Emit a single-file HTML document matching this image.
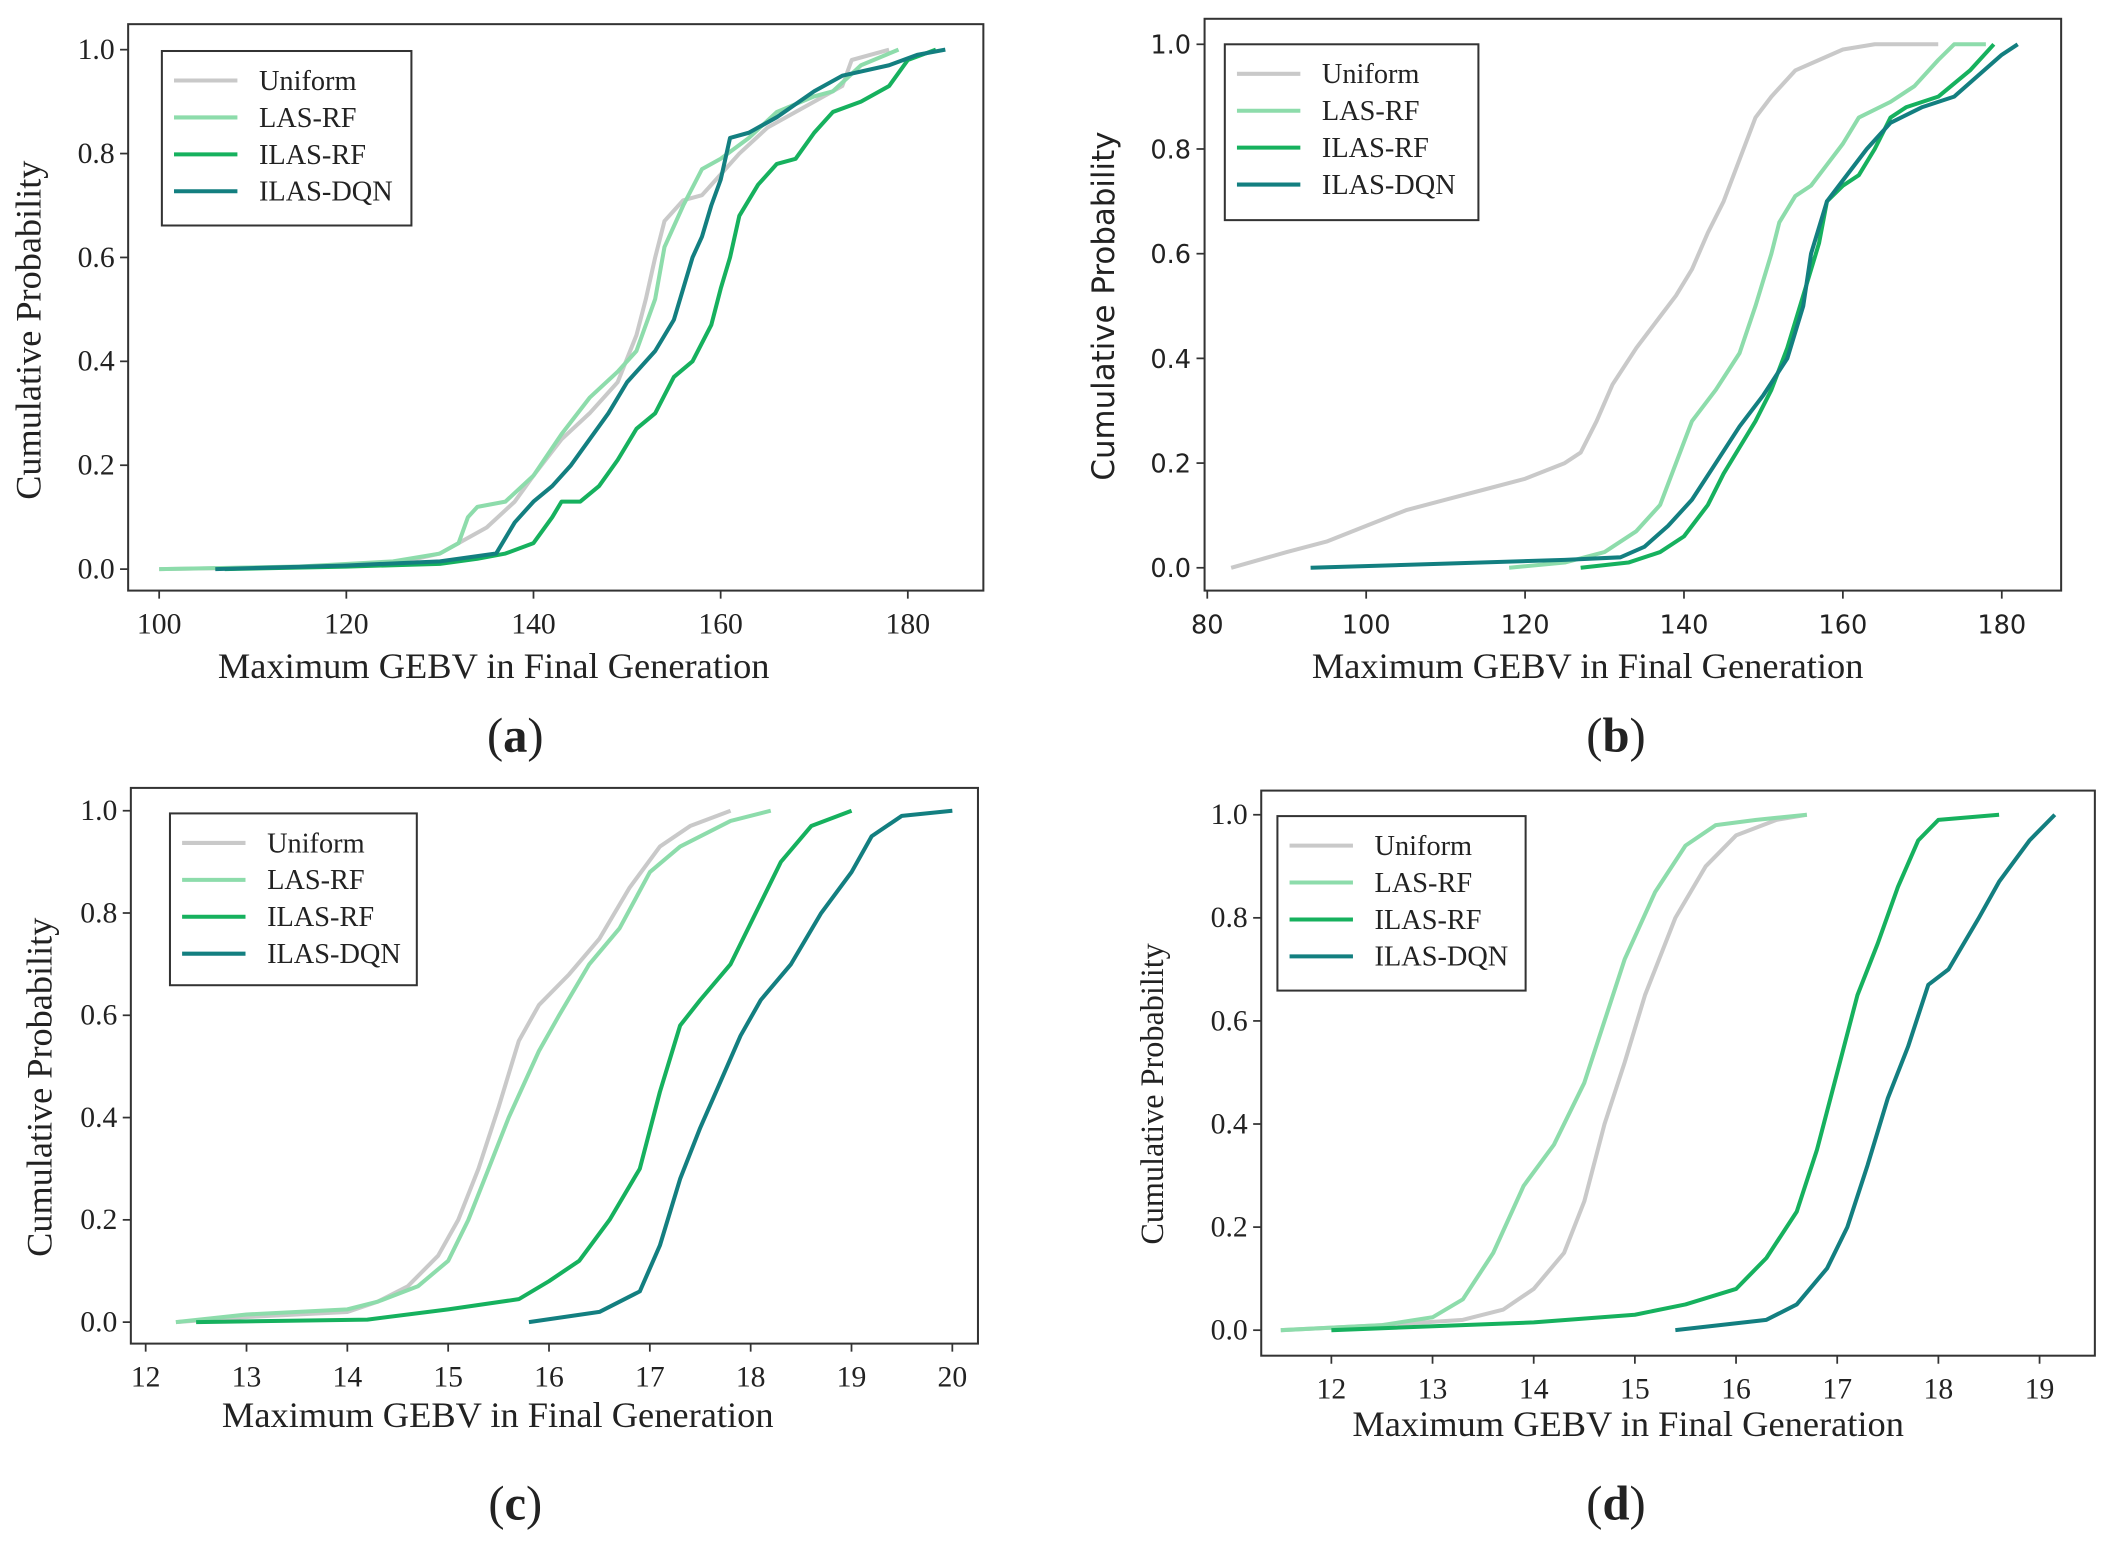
<!DOCTYPE html>
<html><head><meta charset="utf-8"><style>
html,body{margin:0;padding:0;background:#fff}
svg{display:block}
text{font-family:"Liberation Serif",serif;fill:#222}
.sans{font-family:"DejaVu Sans","Liberation Sans",sans-serif}
</style></head><body>
<svg id="fig" width="2107" height="1553" viewBox="0 0 1562 1157" preserveAspectRatio="none" xmlns="http://www.w3.org/2000/svg"></svg>
<script>
const seriesNames = ["Uniform","LAS-RF","ILAS-RF","ILAS-DQN"];
const seriesColors = ["#c9c9c9","#8ddcab","#16b15e","#137f80"];
const yTicks = [0,0.2,0.4,0.6,0.8,1.0];
const xTicksA = [100,120,140,160,180];
const xTicksB = [80,100,120,140,160,180];
const xTicksC = [12,13,14,15,16,17,18,19,20];
const xTicksD = [12,13,14,15,16,17,18,19];

const aUniX=[100,118,125,130,135,138,140,143,146,149,151,152,153,154,156,158,160,162,165,170,173,174,178];
const aUniP=[0,0.005,0.01,0.03,0.08,0.13,0.18,0.25,0.3,0.36,0.45,0.52,0.6,0.67,0.71,0.72,0.76,0.8,0.85,0.9,0.93,0.98,1.0];
const aLasX=[100,115,125,130,132,133,134,137,140,143,146,149,151,153,154,156,158,160,163,166,170,172,175,179];
const aLasP=[0,0.005,0.015,0.03,0.05,0.1,0.12,0.13,0.18,0.26,0.33,0.38,0.42,0.52,0.62,0.7,0.77,0.79,0.83,0.88,0.91,0.92,0.97,1.0];
const aIlrX=[107,120,130,134,137,140,142,143,145,147,149,151,153,155,157,159,160,161,162,164,166,168,170,172,175,178,180,183];
const aIlrP=[0,0.005,0.01,0.02,0.03,0.05,0.1,0.13,0.13,0.16,0.21,0.27,0.3,0.37,0.4,0.47,0.54,0.6,0.68,0.74,0.78,0.79,0.84,0.88,0.9,0.93,0.98,1.0];
const aDqnX=[106,120,130,136,138,140,142,144,146,148,150,153,155,156,157,158,159,160,161,163,166,170,173,178,181,184];
const aDqnP=[0,0.007,0.015,0.03,0.09,0.13,0.16,0.2,0.25,0.3,0.36,0.42,0.48,0.54,0.6,0.64,0.7,0.75,0.83,0.84,0.87,0.92,0.95,0.97,0.99,1.0];

const bUniX=[83,90,95,100,105,110,115,120,125,127,129,131,134,137,139,141,143,145,147,149,151,154,157,160,164,172];
const bUniP=[0,0.03,0.05,0.08,0.11,0.13,0.15,0.17,0.2,0.22,0.28,0.35,0.42,0.48,0.52,0.57,0.64,0.7,0.78,0.86,0.9,0.95,0.97,0.99,1.0,1.0];
const bLasX=[118,125,130,134,137,139,141,144,147,149,151,152,154,156,158,160,162,166,169,172,174,178];
const bLasP=[0,0.01,0.03,0.07,0.12,0.2,0.28,0.34,0.41,0.5,0.6,0.66,0.71,0.73,0.77,0.81,0.86,0.89,0.92,0.97,1.0,1.0];
const bIlrX=[127,133,137,140,143,145,147,149,151,153,155,157,158,160,162,164,166,168,172,176,179];
const bIlrP=[0,0.01,0.03,0.06,0.12,0.18,0.23,0.28,0.34,0.42,0.52,0.62,0.7,0.73,0.75,0.8,0.86,0.88,0.9,0.95,1.0];
const bDqnX=[93,110,125,132,135,138,141,144,147,150,153,155,156,158,160,163,166,170,174,177,180,182];
const bDqnP=[0,0.008,0.015,0.02,0.04,0.08,0.13,0.2,0.27,0.33,0.4,0.5,0.6,0.7,0.74,0.8,0.85,0.88,0.9,0.94,0.98,1.0];

const cUniX=[12.3,13,14,14.3,14.6,14.9,15.1,15.3,15.5,15.7,15.9,16.2,16.5,16.8,17.1,17.4,17.8];
const cUniP=[0,0.01,0.02,0.04,0.07,0.13,0.2,0.3,0.42,0.55,0.62,0.68,0.75,0.85,0.93,0.97,1.0];
const cLasX=[12.3,13,14,14.3,14.7,15,15.2,15.4,15.6,15.9,16.1,16.4,16.7,17,17.3,17.8,18.2];
const cLasP=[0,0.015,0.025,0.04,0.07,0.12,0.2,0.3,0.4,0.53,0.6,0.7,0.77,0.88,0.93,0.98,1.0];
const cIlrX=[12.5,14.2,15,15.7,16,16.3,16.6,16.9,17.1,17.3,17.5,17.8,18,18.3,18.6,19];
const cIlrP=[0,0.005,0.025,0.045,0.08,0.12,0.2,0.3,0.45,0.58,0.63,0.7,0.78,0.9,0.97,1.0];
const cDqnX=[15.8,16.5,16.9,17.1,17.3,17.5,17.7,17.9,18.1,18.4,18.7,19,19.2,19.5,20];
const cDqnP=[0,0.02,0.06,0.15,0.28,0.38,0.47,0.56,0.63,0.7,0.8,0.88,0.95,0.99,1.0];

const dUniX=[11.5,12.5,13.3,13.7,14,14.3,14.5,14.7,14.9,15.1,15.4,15.7,16,16.4,16.7];
const dUniP=[0,0.01,0.02,0.04,0.08,0.15,0.25,0.4,0.52,0.65,0.8,0.9,0.96,0.99,1.0];
const dLasX=[11.5,12.5,13,13.3,13.6,13.9,14.2,14.5,14.7,14.9,15.2,15.5,15.8,16.2,16.7];
const dLasP=[0,0.01,0.025,0.06,0.15,0.28,0.36,0.48,0.6,0.72,0.85,0.94,0.98,0.99,1.0];
const dIlrX=[12,14,15,15.5,16,16.3,16.6,16.8,17,17.2,17.4,17.6,17.8,18,18.6];
const dIlrP=[0,0.015,0.03,0.05,0.08,0.14,0.23,0.35,0.5,0.65,0.75,0.86,0.95,0.99,1.0];
const dDqnX=[15.4,16.3,16.6,16.9,17.1,17.3,17.5,17.7,17.9,18.1,18.4,18.6,18.9,19.15];
const dDqnP=[0,0.02,0.05,0.12,0.2,0.32,0.45,0.55,0.67,0.7,0.8,0.87,0.95,1.0];

const NS="http://www.w3.org/2000/svg";
const svg=document.getElementById('fig');
function mk(tag,attrs,parent){const e=document.createElementNS(NS,tag);for(const k in attrs)e.setAttribute(k,attrs[k]);(parent||svg).appendChild(e);return e;}

const panels=[
 {id:'a',box:[95,18,729,440],x0v:100,x0p:118,x1v:180,x1p:673,y0p:424,y1p:37,xt:xTicksA,sans:false,ylfs:27,
  leg:[120,38,305,168],xl:[366,505],yl:[30,246],cap:[382,560],
  data:[[aUniX,aUniP],[aLasX,aLasP],[aIlrX,aIlrP],[aDqnX,aDqnP]]},
 {id:'b',box:[893,14,1528,440],x0v:80,x0p:895,x1v:180,x1p:1484,y0p:423,y1p:33,xt:xTicksB,sans:true,ylfs:23,
  leg:[908,33,1096,164],xl:[1177,505],yl:[826,228],cap:[1198,560],
  data:[[bUniX,bUniP],[bLasX,bLasP],[bIlrX,bIlrP],[bDqnX,bDqnP]]},
 {id:'c',box:[97,587,725,1001],x0v:12,x0p:108,x1v:20,x1p:706,y0p:985,y1p:604,xt:xTicksC,sans:false,ylfs:27,
  leg:[126,606,309,734],xl:[369,1063],yl:[38,810],cap:[382,1132],
  data:[[cUniX,cUniP],[cLasX,cLasP],[cIlrX,cIlrP],[cDqnX,cDqnP]]},
 {id:'d',box:[935,589,1553,1010],x0v:12,x0p:987,x1v:19,x1p:1512,y0p:991,y1p:607,xt:xTicksD,sans:false,ylfs:24,
  leg:[947,608,1131,738],xl:[1207,1070],yl:[862,815],cap:[1198,1132],
  data:[[dUniX,dUniP],[dLasX,dLasP],[dIlrX,dIlrP],[dDqnX,dDqnP]]}
];

panels.forEach(P=>{
  const g=mk('g',{});
  
  
  const xs=v=>P.x0p+(v-P.x0v)*(P.x1p-P.x0p)/(P.x1v-P.x0v);
  const ys=v=>P.y0p+v*(P.y1p-P.y0p);
  const [bx0,by0,bx1,by1]=P.box;
  const cls=P.sans?'sans':'';
  const fs=P.sans?19:22;
  P.data.forEach((d,i)=>{
    const pts=d[0].map((x,j)=>xs(x).toFixed(1)+','+ys(d[1][j]).toFixed(1)).join(' ');
    const pl=mk('polyline',{points:pts,fill:'none',stroke:seriesColors[i],'stroke-width':3,'stroke-linejoin':'round'},g);
    
    
  });
  const frame=mk('rect',{x:bx0,y:by0,width:bx1-bx0,height:by1-by0,fill:'none',stroke:'#333','stroke-width':1.5},g);
  
  
  yTicks.forEach(t=>{
    const y=ys(t);
    mk('line',{x1:bx0-6,x2:bx0,y1:y,y2:y,stroke:'#333','stroke-width':1.3},g);
    const tx=mk('text',{x:bx0-10,y:y+7,'text-anchor':'end','font-size':fs,class:cls},g);
    tx.textContent=t.toFixed(1);
    
    
  });
  P.xt.forEach(t=>{
    const x=xs(t);
    mk('line',{x1:x,x2:x,y1:by1,y2:by1+6,stroke:'#333','stroke-width':1.3},g);
    const tx=mk('text',{x:x,y:by1+32,'text-anchor':'middle','font-size':fs,class:cls},g);
    tx.textContent=t;
    
    
  });
  const xl=mk('text',{x:P.xl[0],y:P.xl[1],'text-anchor':'middle','font-size':27},g);
  xl.textContent='Maximum GEBV in Final Generation';
  
  
  const yl=mk('text',{x:P.yl[0],y:P.yl[1],'text-anchor':'middle','font-size':P.ylfs,class:cls,transform:`rotate(-90 ${P.yl[0]} ${P.yl[1]})`},g);
  yl.textContent='Cumulative Probability';
  
  
  const [lx0,ly0,lx1,ly1]=P.leg;
  const lg=mk('g',{},g);
  
  
  mk('rect',{x:lx0,y:ly0,width:lx1-lx0,height:ly1-ly0,fill:'#fff',stroke:'#333','stroke-width':1.5},lg);
  seriesNames.forEach((n,i)=>{
    const y=ly0+22+i*27.5;
    const e=mk('g',{},lg);
    
    
    mk('line',{x1:lx0+9,x2:lx0+56,y1:y,y2:y,stroke:seriesColors[i],'stroke-width':3},e);
    const t=mk('text',{x:lx0+72,y:y+7,'font-size':21},e);
    t.textContent=n;
  });
  const cap=mk('text',{x:P.cap[0],y:P.cap[1],'text-anchor':'middle','font-size':36},g);
  cap.innerHTML='(<tspan font-weight="bold">'+P.id+'</tspan>)';
  
  
});
</script>
</body></html>
